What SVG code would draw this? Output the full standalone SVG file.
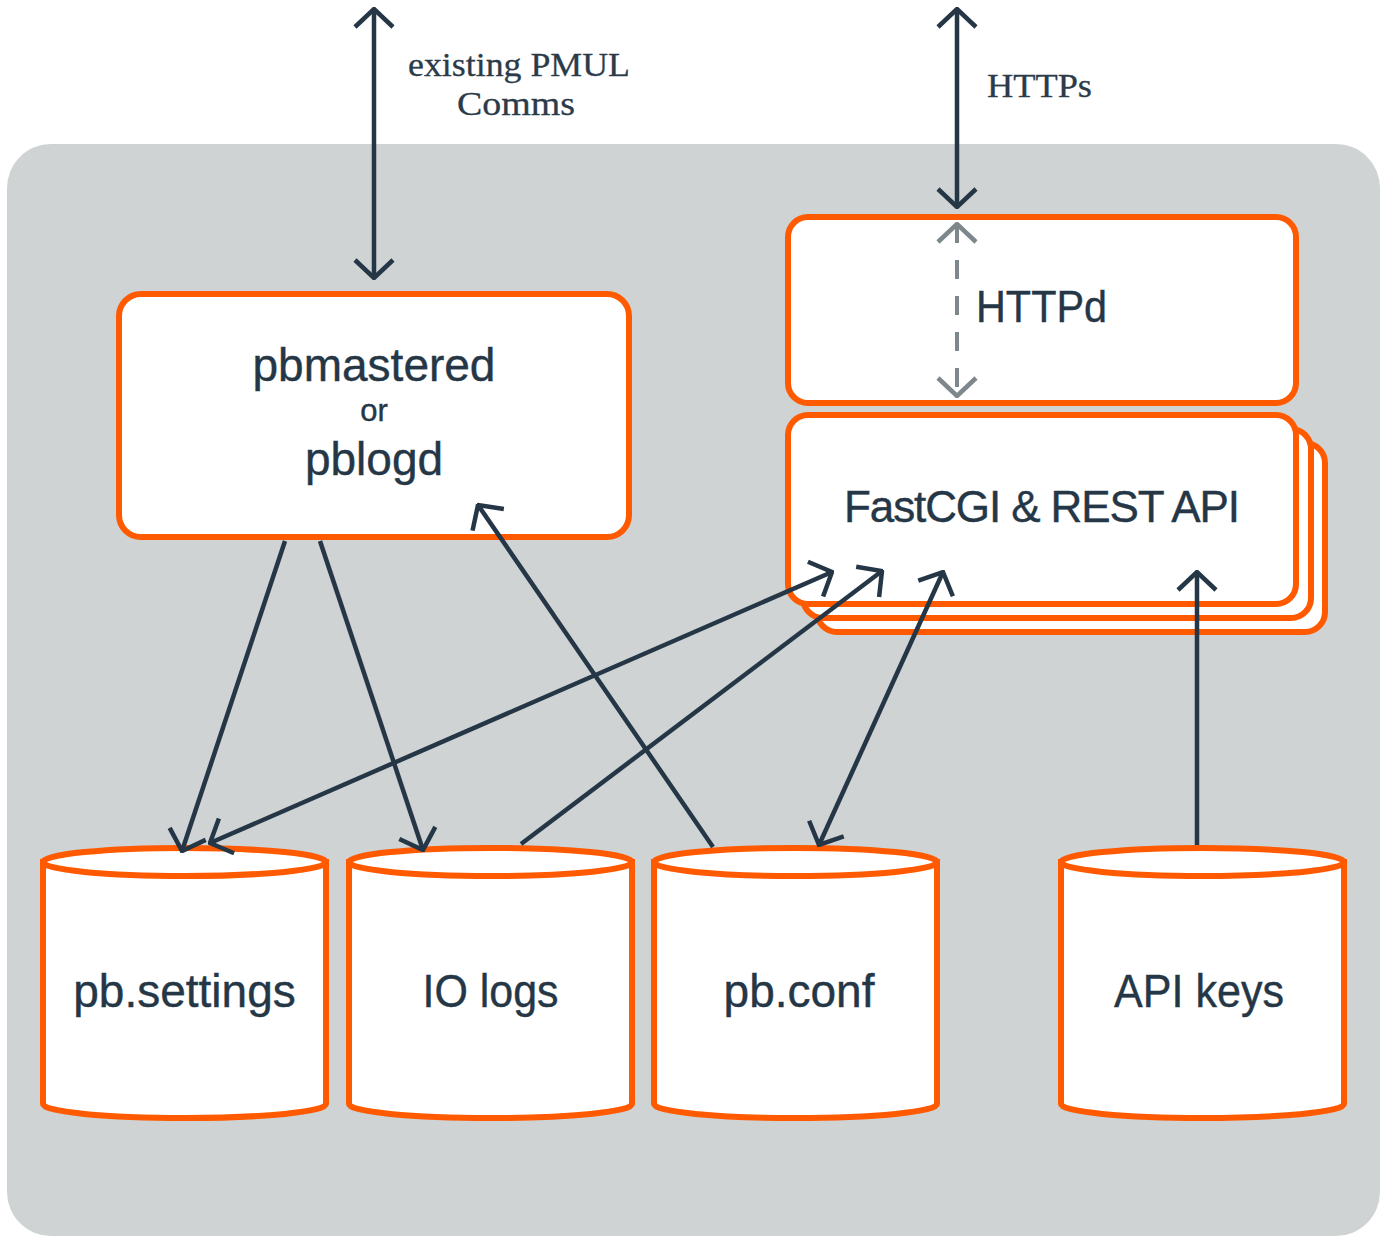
<svg xmlns="http://www.w3.org/2000/svg" width="1384" height="1236" viewBox="0 0 1384 1236">
  <defs>
    <style>
      .bg { fill: #cfd3d4; }
      .box { fill: #ffffff; stroke: #ff5a00; stroke-width: 6; }
      .conn { fill: none; stroke: #253746; stroke-width: 4.5; }
      .dash { fill: none; stroke: #7d878c; stroke-width: 4; stroke-dasharray: 19 17; }
      .lbl { font-family: "Liberation Sans", Arial, sans-serif; fill: #253746; text-anchor: middle; stroke: #253746; stroke-width: 0.4; }
      .serif { font-family: "Liberation Serif", "DejaVu Serif", serif; fill: #2b3b4a; font-size: 34px; stroke: #2b3b4a; stroke-width: 0.3; }
    </style>
    <marker id="chev" viewBox="0 0 22 42" refX="20" refY="21" markerWidth="22" markerHeight="42" markerUnits="userSpaceOnUse" orient="auto-start-reverse">
      <path d="M2,2 L20,21 L2,40" fill="none" stroke="#253746" stroke-width="4.5"/>
    </marker>
    <marker id="chevGray" viewBox="0 0 22 42" refX="20" refY="21" markerWidth="22" markerHeight="42" markerUnits="userSpaceOnUse" orient="auto-start-reverse">
      <path d="M2,2 L20,21 L2,40" fill="none" stroke="#7d878c" stroke-width="4.5"/>
    </marker>
  </defs>

  <rect class="bg" x="7" y="144" width="1373" height="1092" rx="44" ry="44"/>

  <g id="pbmastered">
    <rect class="box" x="119" y="294" width="510" height="243" rx="22"/>
    <text class="lbl" x="374" y="381" font-size="46">pbmastered</text>
    <text class="lbl" x="374" y="421" font-size="31">or</text>
    <text class="lbl" x="374" y="475" font-size="46">pblogd</text>
  </g>

  <g id="httpd">
    <rect class="box" x="788" y="217" width="508" height="186" rx="20"/>
    <text class="lbl" x="1041.5" y="322" font-size="44" stroke-width="1.6" textLength="131" lengthAdjust="spacingAndGlyphs">HTTPd</text>
  </g>

  <g id="fastcgi">
    <rect class="box" x="817" y="443" width="508" height="189" rx="20"/>
    <rect class="box" x="803" y="429" width="508" height="189" rx="20"/>
    <rect class="box" x="788" y="415" width="508" height="189" rx="20"/>
    <text class="lbl" x="1042" y="522" font-size="44" textLength="396">FastCGI &amp; REST API</text>
  </g>

  <g id="pb-settings">
    <path class="box" d="M43,862 L43,1104 A141.5,14 0 0 0 326,1104 L326,862 Z"/>
    <ellipse class="box" cx="184.5" cy="862" rx="141.5" ry="14"/>
    <text class="lbl" x="184.5" y="1007" font-size="46">pb.settings</text>
  </g>

  <g id="io-logs">
    <path class="box" d="M349,862 L349,1104 A141.5,14 0 0 0 632,1104 L632,862 Z"/>
    <ellipse class="box" cx="490.5" cy="862" rx="141.5" ry="14"/>
    <text class="lbl" x="490.5" y="1007" font-size="46" textLength="136" lengthAdjust="spacingAndGlyphs">IO logs</text>
  </g>

  <g id="pb-conf">
    <path class="box" d="M654,862 L654,1104 A141.5,14 0 0 0 937,1104 L937,862 Z"/>
    <ellipse class="box" cx="795.5" cy="862" rx="141.5" ry="14"/>
    <text class="lbl" x="799" y="1007" font-size="46">pb.conf</text>
  </g>

  <g id="api-keys">
    <path class="box" d="M1061,862 L1061,1104 A141.5,14 0 0 0 1344,1104 L1344,862 Z"/>
    <ellipse class="box" cx="1202.5" cy="862" rx="141.5" ry="14"/>
    <text class="lbl" x="1199" y="1007" font-size="46" textLength="170" lengthAdjust="spacingAndGlyphs">API keys</text>
  </g>

  <g id="labels">
    <text class="serif" x="519" y="76" text-anchor="middle" textLength="222" lengthAdjust="spacingAndGlyphs">existing PMUL</text>
    <text class="serif" x="516" y="115" text-anchor="middle" textLength="118" lengthAdjust="spacingAndGlyphs">Comms</text>
    <text class="serif" x="987" y="97" textLength="105" lengthAdjust="spacingAndGlyphs">HTTPs</text>
  </g>

  <g id="connectors">
    <line class="conn" x1="374" y1="9" x2="374" y2="278" marker-start="url(#chev)" marker-end="url(#chev)"/>
    <line class="conn" x1="957" y1="9" x2="957" y2="207" marker-start="url(#chev)" marker-end="url(#chev)"/>
    <line class="dash" x1="957" y1="224" x2="957" y2="396" marker-start="url(#chevGray)" marker-end="url(#chevGray)"/>
    <line class="conn" x1="285" y1="541" x2="182" y2="851" marker-end="url(#chev)"/>
    <line class="conn" x1="320" y1="541" x2="423" y2="850" marker-end="url(#chev)"/>
    <line class="conn" x1="713" y1="847" x2="478" y2="505" marker-end="url(#chev)"/>
    <line class="conn" x1="210" y1="843" x2="832" y2="572" marker-start="url(#chev)" marker-end="url(#chev)"/>
    <line class="conn" x1="521" y1="844" x2="882" y2="571" marker-end="url(#chev)"/>
    <line class="conn" x1="819" y1="845" x2="943" y2="572" marker-start="url(#chev)" marker-end="url(#chev)"/>
    <line class="conn" x1="1197" y1="845" x2="1197" y2="572" marker-end="url(#chev)"/>
  </g>
</svg>
